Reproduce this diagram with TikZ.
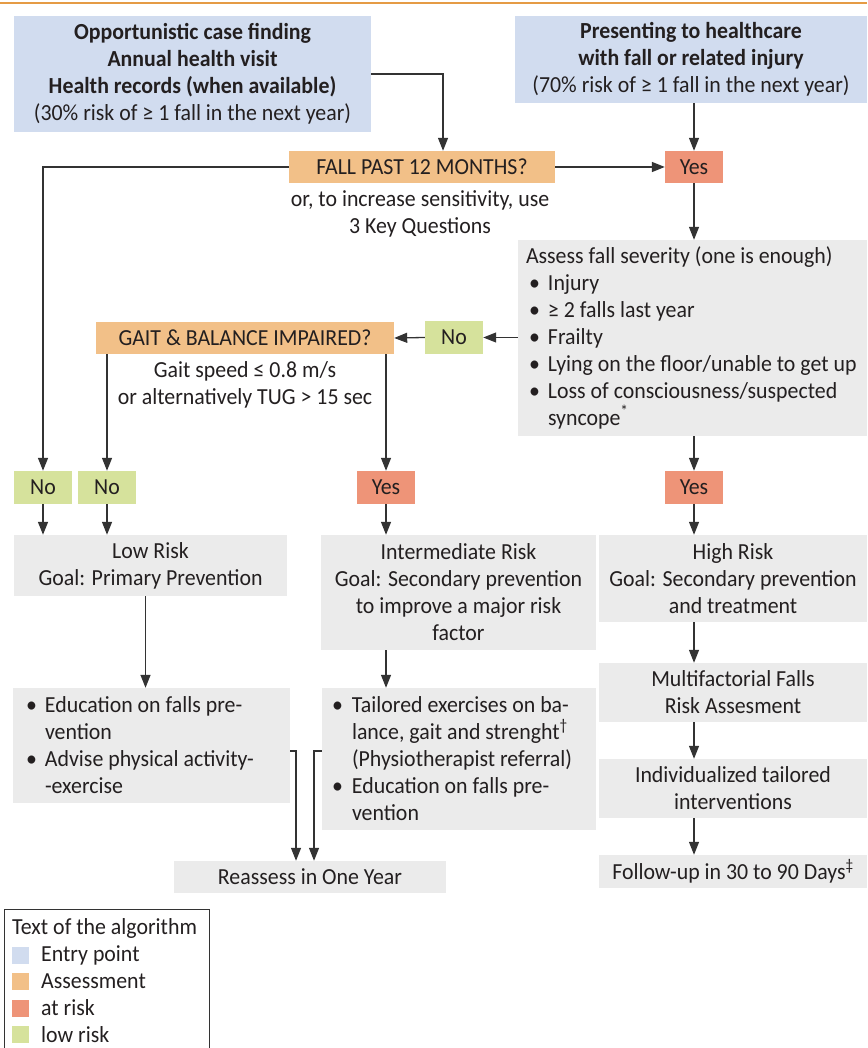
\documentclass[tikz,border=0pt]{standalone}
\usepackage{fontspec}
\setmainfont{Carlito}[FakeStretch=0.95]
\usetikzlibrary{arrows.meta}
\definecolor{entry}{HTML}{D1DCEF}
\definecolor{assess}{HTML}{F2C088}
\definecolor{atrisk}{HTML}{EE9478}
\definecolor{lowrisk}{HTML}{D6E29C}
\definecolor{grey}{HTML}{EBEBEB}
\definecolor{txt}{HTML}{231F20}
\definecolor{ln}{HTML}{333333}
\definecolor{topline}{HTML}{E59B45}
\newcommand{\bul}[2]{\makebox[#1][l]{\hspace{#2}\textbullet}}
\begin{document}
\begin{tikzpicture}[x=1pt,y=-1pt,
  font=\fontsize{23}{27}\selectfont, text=txt,
  fbox/.style={fill=#1, inner sep=0pt, align=center},
  arr/.style={draw=ln, line width=1.3pt, -{Triangle[length=13pt,width=10pt]}},
  note/.style={align=center, inner sep=0pt}]
\useasboundingbox (0,0) rectangle (867,1048);
\draw[topline, line width=2pt] (0,3) -- (867,3);
% entry points
\node[fbox=entry, minimum width=357pt, minimum height=116pt] (entryA) at (192.5,74)
  {\textbf{Opportunistic case finding}\\\textbf{Annual health visit}\\\textbf{Health records (when available)}\\(30\% risk of ≥ 1 fall in the next year)};
\node[fbox=entry, minimum width=352pt, minimum height=87pt] (entryB) at (691,59.5)
  {\textbf{Presenting to healthcare}\\\textbf{with fall or related injury}\\(70\% risk of ≥ 1 fall in the next year)};
% assessments
\node[fbox=assess, minimum width=266pt, minimum height=32pt] (fall) at (422,167) {FALL PAST 12 MONTHS?};
\node[note] (fallnote) at (420,213.5) {or, to increase sensitivity, use\\3 Key Questions};
\node[fbox=atrisk, minimum width=58pt, minimum height=32pt] (yes1) at (694,167) {Yes};
\node[fbox=grey, minimum width=349pt, minimum height=196pt, text width=333pt, align=flush left] (sev) at (692.5,338)
  {Assess fall severity (one is enough)\\
   \bul{22pt}{3pt}Injury\\
   \bul{22pt}{3pt}≥ 2 falls last year\\
   \bul{22pt}{3pt}Frailty\\
   \bul{22pt}{3pt}Lying on the floor/unable to get up\\
   \bul{22pt}{3pt}Loss of consciousness/suspected\\
   \hspace*{22pt}syncope\textsuperscript{*}};
\node[fbox=lowrisk, minimum width=58pt, minimum height=33pt] (no0) at (454,337.5) {No};
\node[fbox=assess, minimum width=298pt, minimum height=32pt] (gait) at (245,338) {GAIT \& BALANCE IMPAIRED?};
\node[note] (gaitnote) at (245,384.5) {Gait speed ≤ 0.8 m/s\\or alternatively TUG > 15 sec};
% decisions
\node[fbox=lowrisk, minimum width=58pt, minimum height=33pt] (no1) at (43,487.5) {No};
\node[fbox=lowrisk, minimum width=58pt, minimum height=33pt] (no2) at (107,487.5) {No};
\node[fbox=atrisk, minimum width=58pt, minimum height=33pt] (yes2) at (386,487.5) {Yes};
\node[fbox=atrisk, minimum width=58pt, minimum height=33pt] (yes3) at (694,487.5) {Yes};
% risk levels
\node[fbox=grey, minimum width=273pt, minimum height=61pt] (low) at (150.5,565.5)
  {Low Risk\\Goal: Primary Prevention};
\node[fbox=grey, minimum width=275pt, minimum height=115pt] (inter) at (458.5,592.5)
  {Intermediate Risk\\Goal: Secondary prevention\\to improve a major risk\\factor};
\node[fbox=grey, minimum width=268pt, minimum height=87pt] (high) at (733,578.5)
  {High Risk\\Goal: Secondary prevention\\and treatment};
% actions
\node[fbox=grey, minimum width=277pt, minimum height=115pt, text width=269pt, align=flush left] (lowb) at (151.5,745.5)
  {\bul{28pt}{9pt}Education on falls pre-\\
   \hspace*{28pt}vention\\
   \bul{28pt}{9pt}Advise physical activity-\\
   \hspace*{28pt}-exercise};
\node[fbox=grey, minimum width=274pt, minimum height=142pt, text width=266pt, align=flush left] (interb) at (459,759)
  {\bul{26pt}{6pt}Tailored exercises on ba-\\
   \hspace*{26pt}lance, gait and strenght\textsuperscript{†}\\
   \hspace*{26pt}(Physiotherapist referral)\\
   \bul{26pt}{6pt}Education on falls pre-\\
   \hspace*{26pt}vention};
\node[fbox=grey, minimum width=268pt, minimum height=59pt] (multi) at (733,692.5)
  {Multifactorial Falls\\Risk Assesment};
\node[fbox=grey, minimum width=268pt, minimum height=59pt] (indiv) at (733,788.5)
  {Individualized tailored\\interventions};
\node[fbox=grey, minimum width=268pt, minimum height=33pt] (follow) at (733,871.5)
  {Follow-up in 30 to 90 Days\textsuperscript{‡}};
\node[fbox=grey, minimum width=272pt, minimum height=32pt] (reassess) at (310,877)
  {Reassess in One Year};
% connectors
\draw[arr] (entryA.east) -| ([xshift=21pt]fall.north);
\draw[arr] (fall.east) -- (yes1.west);
\draw[arr] (yes1.north |- entryB.south) -- (yes1.north);
\draw[arr] (yes1.south) -- (yes1.south |- sev.north);
\draw[arr] (sev.west |- no0.east) -- (no0.east);
\draw[arr] (no0.west) -- (gait.east);
\draw[arr] (fall.west) -| (no1.north);
\draw[arr] (no2.north |- gait.south) -- (no2.north);
\draw[arr] (yes2.north |- gait.south) -- (yes2.north);
\draw[arr] (yes3.north |- sev.south) -- (yes3.north);
\draw[arr] (no1.south) -- (no1.south |- low.north);
\draw[arr] (no2.south) -- (no2.south |- low.north);
\draw[arr] (yes2.south) -- (yes2.south |- inter.north);
\draw[arr] (yes3.south) -- (yes3.south |- high.north);
\draw[arr] ([xshift=-5pt]low.south) -- ([xshift=-5pt]low.south |- lowb.north);
\draw[arr] (inter.south -| yes2) -- (interb.north -| yes2);
\draw[arr] (high.south -| yes3) -- (multi.north -| yes3);
\draw[arr] (multi.south -| yes3) -- (indiv.north -| yes3);
\draw[arr] (indiv.south -| yes3) -- (follow.north -| yes3);
\draw[arr] ([yshift=-5.5pt]lowb.east) -| ([xshift=-14pt]reassess.north);
\draw[arr] ([yshift=8pt]interb.west) -| ([xshift=4pt]reassess.north);
% legend
\node[draw=ln, line width=1.3pt, minimum width=205pt, minimum height=150pt, anchor=north west, inner sep=0pt] (legend) at (4,909) {};
\node[anchor=west, inner sep=0pt] (lgtitle) at (12,928) {Text of the algorithm};
\node[fill=entry, minimum size=17pt, inner sep=0pt] (sw1) at (20.5,955) {};
\node[fill=assess, minimum size=17pt, inner sep=0pt] (sw2) at (20.5,981.5) {};
\node[fill=atrisk, minimum size=17pt, inner sep=0pt] (sw3) at (20.5,1008) {};
\node[fill=lowrisk, minimum size=17pt, inner sep=0pt] (sw4) at (20.5,1034.5) {};
\node[anchor=west, inner sep=0pt] (lg1) at (41,955) {Entry point};
\node[anchor=west, inner sep=0pt] (lg2) at (41,981.5) {Assessment};
\node[anchor=west, inner sep=0pt] (lg3) at (41,1008) {at risk};
\node[anchor=west, inner sep=0pt] (lg4) at (41,1034.5) {low risk};
\end{tikzpicture}
\end{document}
